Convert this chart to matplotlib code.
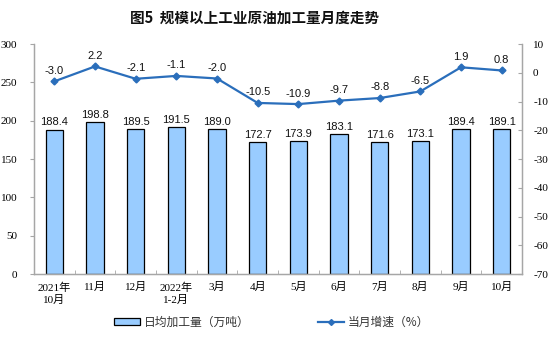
import numpy as np
import matplotlib
matplotlib.use('Agg')
import matplotlib.pyplot as plt
from matplotlib.lines import Line2D
from matplotlib.patches import Patch

# 字体设置：中文用 Noto Sans CJK SC，数字用 Liberation
plt.rcParams['font.family'] = ['Noto Sans CJK SC', 'DejaVu Sans']
plt.rcParams['axes.unicode_minus'] = False

# 数据
months = ['2021年\n10月', '11月', '12月', '2022年\n1-2月', '3月', '4月',
          '5月', '6月', '7月', '8月', '9月', '10月']
daily_output = [188.4, 198.8, 189.5, 191.5, 189.0, 172.7,
                173.9, 183.1, 171.6, 173.1, 189.4, 189.1]
growth = [-3.0, 2.2, -2.1, -1.1, -2.0, -10.5,
          -10.9, -9.7, -8.8, -6.5, 1.9, 0.8]
left_ticks = [0, 50, 100, 150, 200, 250, 300]
right_ticks = [10, 0, -10, -20, -30, -40, -50, -60, -70]

bar_color = '#99CCFF'
line_color = '#2A6EBB'
spine_color = '#A6A6A6'
num_font = ['Liberation Serif', 'Noto Sans CJK SC']

fig = plt.figure(figsize=(5.54, 3.53), dpi=100)
ax = fig.add_axes([34/554, 1-274/353, (522-34)/554, (274-44)/353])
ax2 = ax.twinx()

x = np.arange(len(months))
ax.bar(x, daily_output, width=0.42, color=bar_color, edgecolor='black', linewidth=0.9, zorder=2)
for xi, v in zip(x, daily_output):
    ax.annotate(f'{v:.1f}', (xi, v), xytext=(0, 1.5), textcoords='offset points',
                ha='center', va='bottom', fontsize=8, family='Liberation Sans', color='#111111')

ax2.plot(x, growth, color=line_color, linewidth=1.6, marker='D', markersize=3.5, zorder=3)
for xi, v in zip(x, growth):
    ax2.annotate(f'{v:.1f}', (xi, v), xytext=(0, 4), textcoords='offset points',
                 ha='center', va='bottom', fontsize=8, family='Liberation Sans', color='#111111')

ax.set_xlim(-0.5, len(months) - 0.5)
ax.set_ylim(0, 300)
ax2.set_ylim(-70, 10)
ax.set_yticks(left_ticks)
ax2.set_yticks(right_ticks)
ax.set_yticklabels([str(t) for t in left_ticks], family=num_font, fontsize=8)
ax2.set_yticklabels([str(t) for t in right_ticks], family=num_font, fontsize=8)

ax.set_xticks(x)
ax.set_xticklabels(months, family=num_font, fontsize=8, linespacing=1.25)
ax.set_xticks(np.arange(0.5, len(months) - 0.5), minor=True)
ax.tick_params(axis='x', which='major', length=0, pad=6)
ax.tick_params(axis='x', which='minor', length=3, direction='in', color=spine_color)
ax.tick_params(axis='y', length=3, direction='out', color=spine_color, pad=9)
ax2.tick_params(axis='y', length=3, direction='in', color=spine_color, pad=8)

for a in (ax, ax2):
    a.spines['top'].set_visible(False)
    for s in ('left', 'right', 'bottom'):
        a.spines[s].set_color(spine_color)
        a.spines[s].set_linewidth(0.9)

fig.text(0.459, 1 - 18/353, '图5  规模以上工业原油加工量月度走势', ha='center', va='center',
         fontsize=10.5, fontweight='bold', color='#111111')

handles = [Patch(facecolor=bar_color, edgecolor='black', linewidth=0.9),
           Line2D([0], [0], color=line_color, linewidth=1.6, marker='D', markersize=3)]
fig.legend(handles, ['日均加工量（万吨）', '当月增速（%）'], loc='center',
           bbox_to_anchor=(0.49, 1 - 322/353), ncol=2, frameon=False, fontsize=8.5,
           handlelength=2.2, handleheight=0.5, columnspacing=5.8, handletextpad=0.3,
           labelcolor='#333333')

fig.savefig('out.png', dpi=100)
